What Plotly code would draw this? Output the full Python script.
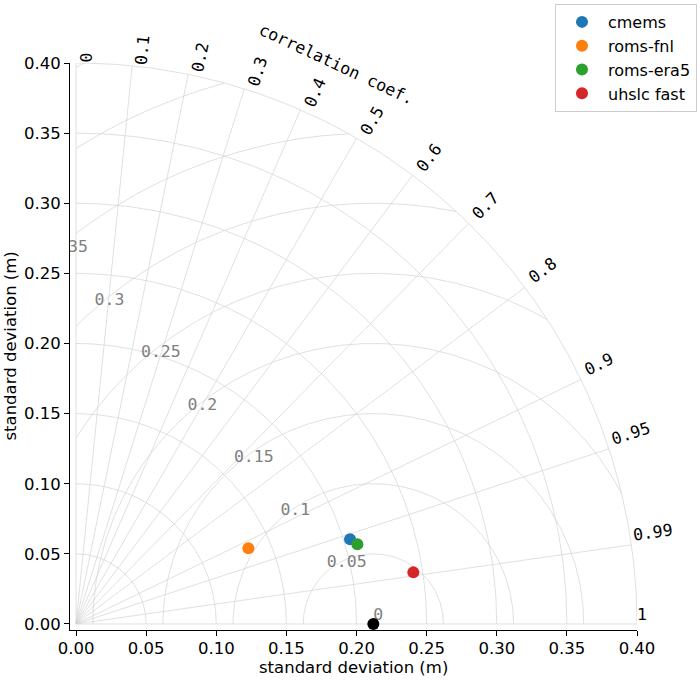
import numpy as np
import plotly.graph_objects as go

# ---------------- data ----------------
names = ["cmems", "roms-fnl", "roms-era5", "uhslc fast"]
colors = ["#1f77b4", "#ff7f0e", "#2ca02c", "#d62728"]
std_values = [0.2045, 0.1342, 0.2085, 0.2433]      # standard deviation (m)
corr_values = [0.9554, 0.9157, 0.9622, 0.9885]     # correlation coefficient
ref_std = 0.212                                     # reference std (m)

corr_ticks = [0, 0.1, 0.2, 0.3, 0.4, 0.5, 0.6, 0.7, 0.8, 0.9, 0.95, 0.99, 1]
corr_tick_labels = ["0", "0.1", "0.2", "0.3", "0.4", "0.5", "0.6", "0.7",
                    "0.8", "0.9", "0.95", "0.99", "1"]
std_grid = [0.05, 0.10, 0.15, 0.20, 0.25, 0.30, 0.35, 0.40]
rms_levels = [0.05, 0.10, 0.15, 0.20, 0.25, 0.30, 0.35, 0.40, 0.45]
rms_label_levels = [0, 0.05, 0.10, 0.15, 0.20, 0.25, 0.30, 0.35]
rms_label_texts = ["0", "0.05", "0.1", "0.15", "0.2", "0.25", "0.3", "0.35"]
axis_ticks = [0, 0.05, 0.10, 0.15, 0.20, 0.25, 0.30, 0.35, 0.40]
smax = 0.40
axis_min = -0.0043

GRID = "#d2d2d2"
GW = 0.7
MONO = "DejaVu Sans Mono"
SANS = "DejaVu Sans"
FS = 16.5
PLOT_PX = 567                       # plot area size in px
PX_PER_UNIT = PLOT_PX / (smax - axis_min)

fig = go.Figure()

# radial correlation lines
gx, gy = [], []
for c in corr_ticks:
    a = np.arccos(c)
    gx += [0, smax * np.cos(a), None]
    gy += [0, smax * np.sin(a), None]
# std arcs
t = np.linspace(0, np.pi / 2, 200)
for r in std_grid:
    gx += list(r * np.cos(t)) + [None]
    gy += list(r * np.sin(t)) + [None]
# RMS circles around reference, kept inside std <= smax and x >= 0
for rho in rms_levels:
    cmin = (smax**2 - ref_std**2 - rho**2) / (2 * ref_std * rho)
    phimin = np.arccos(np.clip(cmin, -1, 1))
    phimax = np.arccos(np.clip(-ref_std / rho, -1, 1))
    if phimax <= phimin:
        continue
    p = np.linspace(phimin, phimax, 300)
    gx += list(ref_std + rho * np.cos(p)) + [None]
    gy += list(rho * np.sin(p)) + [None]

fig.add_trace(go.Scatter(x=gx, y=gy, mode="lines",
                         line=dict(color=GRID, width=GW),
                         hoverinfo="skip", showlegend=False))

# RMS labels (right-anchored so that the anchor stays in range; clipped to axes)
la = np.deg2rad(131.5)
char_w = 0.6021 * FS / PX_PER_UNIT
fig.add_trace(go.Scatter(
    x=[ref_std + r * np.cos(la) + len(s) * char_w
       for r, s in zip(rms_label_levels, rms_label_texts)],
    y=[r * np.sin(la) for r in rms_label_levels],
    mode="text", text=rms_label_texts, textposition="top left",
    textfont=dict(family=MONO, size=FS, color="#808080"),
    cliponaxis=True, hoverinfo="skip", showlegend=False))

# model points
for n, col, s, c in zip(names, colors, std_values, corr_values):
    a = np.arccos(c)
    fig.add_trace(go.Scatter(x=[s * np.cos(a)], y=[s * np.sin(a)], mode="markers",
                             marker=dict(color=col, size=12), name=n,
                             cliponaxis=False))
# reference point
fig.add_trace(go.Scatter(x=[ref_std], y=[0], mode="markers",
                         marker=dict(color="black", size=12),
                         showlegend=False, cliponaxis=False))

annotations = []
# correlation labels
for c, lab in zip(corr_ticks, corr_tick_labels):
    a = np.arccos(c)
    annotations.append(dict(
        x=smax * np.cos(a), y=smax * np.sin(a), xref="x", yref="y",
        text=lab, showarrow=False, textangle=-np.degrees(a),
        xanchor="left", yanchor="bottom", borderpad=0, borderwidth=0,
        font=dict(family=MONO, size=FS, color="black")))
# correlation axis title
ta = np.deg2rad(65)
annotations.append(dict(
    x=1.1 * smax * np.cos(ta), y=1.1 * smax * np.sin(ta), xref="x", yref="y",
    text="correlation coef.", showarrow=False, textangle=90 - 65,
    xanchor="center", yanchor="middle",
    font=dict(family=MONO, size=FS, color="black")))
# axis titles
annotations.append(dict(x=0.5, y=-0.0653, xref="paper", yref="paper",
                        text="standard deviation (m)", showarrow=False,
                        xanchor="center", yanchor="middle",
                        font=dict(family=SANS, size=FS, color="black")))
annotations.append(dict(x=-0.1058, y=0.5, xref="paper", yref="paper",
                        text="standard deviation (m)", showarrow=False,
                        textangle=-90, xanchor="center", yanchor="middle",
                        font=dict(family=SANS, size=FS, color="black")))

axis_common = dict(range=[axis_min, smax], tickvals=axis_ticks, tickformat=".2f",
                   ticks="outside", ticklen=5, tickwidth=1.1, tickcolor="black",
                   showline=True, linecolor="black", linewidth=1.1,
                   showgrid=False, zeroline=False, automargin=False,
                   tickfont=dict(family=SANS, size=FS, color="black"))

fig.update_layout(
    width=700, height=700,
    margin=dict(l=70, r=63, t=63, b=70, pad=0, autoexpand=False),
    plot_bgcolor="white", paper_bgcolor="white",
    font=dict(family=SANS, size=FS, color="black"),
    xaxis=dict(**axis_common, ticklabelstandoff=-2),
    yaxis=dict(**axis_common),
    annotations=annotations,
    legend=dict(x=1.1058, y=1.1041, xanchor="right", yanchor="top",
                itemwidth=42,
                bgcolor="rgba(255,255,255,0.8)", bordercolor="#cccccc",
                borderwidth=1, font=dict(family=SANS, size=16, color="black")),
)

fig.write_html("out.html", config={"displayModeBar": False},
               post_script="document.body.style.margin='0px';")
